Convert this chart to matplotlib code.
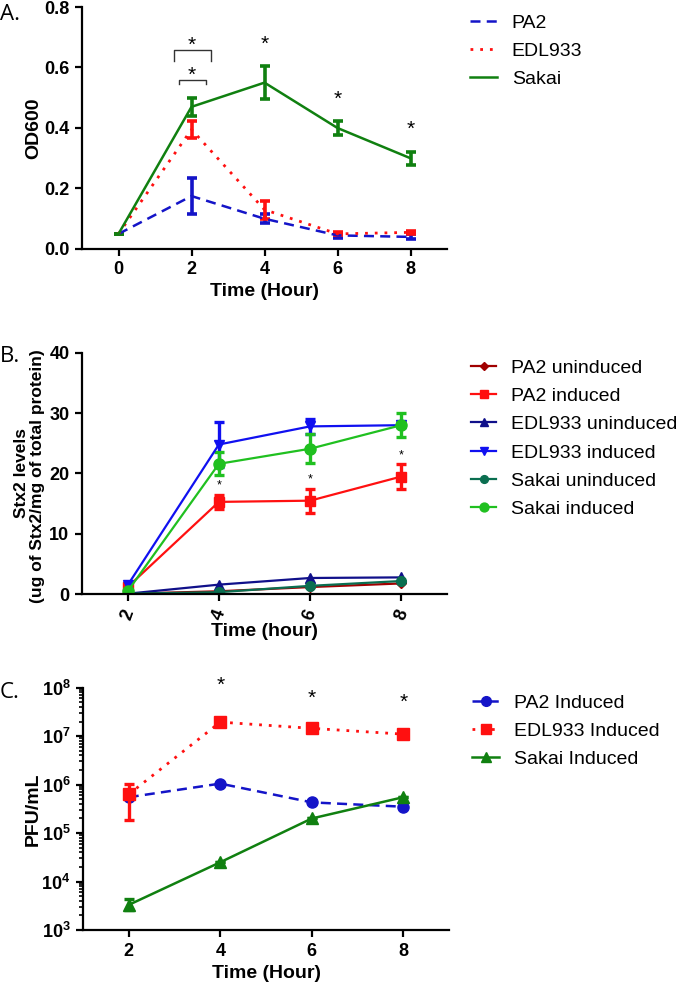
import matplotlib
matplotlib.use("Agg")
import matplotlib.pyplot as plt
from matplotlib.lines import Line2D
from matplotlib.ticker import FuncFormatter, LogLocator, NullFormatter
import numpy as np

plt.rcParams['font.family'] = ['Liberation Sans', 'DejaVu Sans']
plt.rcParams['mathtext.fontset'] = 'custom'
plt.rcParams['mathtext.rm'] = 'Liberation Sans'
plt.rcParams['mathtext.bf'] = 'Liberation Sans:bold'

# ---- panel A: OD600 ----
time_a = [0, 2, 4, 6, 8]
od_pa2 = [0.05, 0.175, 0.10, 0.045, 0.04]
od_pa2_err = [0.0, 0.06, 0.015, 0.007, 0.008]
od_edl = [0.05, 0.395, 0.13, 0.05, 0.055]
od_edl_err = [0.0, 0.027, 0.03, 0.005, 0.005]
od_sakai = [0.05, 0.47, 0.55, 0.40, 0.30]
od_sakai_err = [0.0, 0.03, 0.055, 0.022, 0.022]
stars_a_x = [4, 6, 8]
stars_a_y = [0.675, 0.495, 0.395]

# ---- panel B: Stx2 levels ----
time_b = [2, 4, 6, 8]
pa2_unind = [0.1, 0.5, 1.2, 1.8]
pa2_ind = [1.2, 15.3, 15.5, 19.5]
pa2_ind_err = [0.5, 1.2, 2.0, 2.0]
edl_unind = [0.1, 1.6, 2.7, 2.8]
edl_ind = [1.5, 24.8, 27.8, 28.0]
edl_ind_err = [0.3, 3.8, 1.3, 0.3]
sakai_unind = [0.1, 0.35, 1.4, 2.2]
sakai_ind = [0.5, 21.6, 24.1, 28.0]
sakai_ind_err = [0.3, 1.9, 2.4, 2.0]
stars_b_x = [4, 6, 8]
stars_b_y = [18.0, 19.0, 23.0]

# ---- panel C: PFU/mL ----
time_c = [2, 4, 6, 8]
pfu_pa2 = [5.5e5, 1.05e6, 4.3e5, 3.5e5]
pfu_edl = [6.3e5, 1.95e7, 1.45e7, 1.1e7]
pfu_edl_lo = [1.9e5, 1.95e7, 1.45e7, 1.1e7]
pfu_edl_hi = [1.03e6, 1.95e7, 1.45e7, 1.1e7]
pfu_sakai = [3.3e3, 2.5e4, 2.0e5, 5.5e5]
pfu_sakai_lo = [2.6e3, 2.5e4, 2.0e5, 5.5e5]
pfu_sakai_hi = [4.3e3, 2.5e4, 2.0e5, 5.5e5]
stars_c_x = [4, 6, 8]
stars_c_y = [1.1e8, 6.0e7, 4.9e7]

fig = plt.figure(figsize=(6.8, 9.89), dpi=100)

def style_axes(ax):
    for s in ['top', 'right']:
        ax.spines[s].set_visible(False)
    for s in ['left', 'bottom']:
        ax.spines[s].set_linewidth(1.6)
    ax.tick_params(width=1.6, length=5, labelsize=13, pad=4)
    for lab in ax.get_xticklabels() + ax.get_yticklabels():
        lab.set_fontweight('bold')

def legend_at(ax, handles, x_px, y_px, hl=1.4):
    return ax.legend(handles=handles, loc='upper left',
                     bbox_to_anchor=(x_px / 680, 1 - y_px / 989),
                     bbox_transform=fig.transFigure, frameon=False, fontsize=14,
                     handlelength=hl, handletextpad=0.75, labelspacing=0.55,
                     borderpad=0, borderaxespad=0, numpoints=1)

W = 365 / 680
eb = dict(elinewidth=2.6, capsize=3.5, capthick=2.6)

# Panel A
ax1 = fig.add_axes([82 / 680, 1 - 249 / 989, W, 242 / 989])
c_pa2, c_edl, c_sak = '#1414c8', '#ff1010', '#108010'
dash, dot = (0, (4, 2.5)), (0, (1, 2.5))
ax1.errorbar(time_a, od_pa2, yerr=od_pa2_err, color=c_pa2, ls=dash, lw=1.8, **eb)
ax1.errorbar(time_a, od_edl, yerr=od_edl_err, color=c_edl, ls=dot, lw=2.0, **eb)
ax1.errorbar(time_a, od_sakai, yerr=od_sakai_err, color=c_sak, ls='-', lw=1.8, **eb)
ax1.set_xlim(-1, 9)
ax1.set_ylim(0, 0.8)
ax1.set_xticks([0, 2, 4, 6, 8])
ax1.set_yticks([0.0, 0.2, 0.4, 0.6, 0.8])
ax1.yaxis.set_major_formatter(FuncFormatter(lambda v, p: f'{v:.1f}'))
ax1.set_xlabel('Time (Hour)', fontsize=14, fontweight='bold', labelpad=3)
ax1.set_ylabel('OD600', fontsize=14, fontweight='bold', labelpad=1)
style_axes(ax1)
# significance brackets at 2 h
ax1.plot([1.52, 1.52, 2.54, 2.54], [0.62, 0.657, 0.657, 0.62], color='#333333', lw=1.0)
ax1.plot([1.66, 1.66, 2.39, 2.39], [0.545, 0.559, 0.559, 0.545], color='#333333', lw=1.0)
ax1.text(2.0, 0.672, '*', ha='center', va='center', fontsize=15)
ax1.text(2.0, 0.573, '*', ha='center', va='center', fontsize=15)
for x, y in zip(stars_a_x, stars_a_y):
    ax1.text(x, y, '*', ha='center', va='center', fontsize=15)
legend_at(ax1, [Line2D([], [], color=c_pa2, ls=dash, lw=1.8, label='PA2'),
                Line2D([], [], color=c_edl, ls=dot, lw=2.0, label='EDL933'),
                Line2D([], [], color=c_sak, ls='-', lw=1.8, label='Sakai')], 470, 14)

# Panel B
ax2 = fig.add_axes([82 / 680, 1 - 594.3 / 989, W, 241.6 / 989])
eb2 = dict(elinewidth=2.4, capsize=3.5, capthick=2.4)
b_styles = [
    ('PA2 uninduced', '#a00000', 'D', 5),
    ('PA2 induced', '#ff1010', 's', 7),
    ('EDL933 uninduced', '#10108a', '^', 7),
    ('EDL933 induced', '#1010f0', 'v', 7),
    ('Sakai uninduced', '#0a6e50', 'o', 7),
    ('Sakai induced', '#20c020', 'o', 8),
]
ax2.plot(time_b, pa2_unind, color=b_styles[0][1], marker='D', ms=5, lw=1.6)
ax2.errorbar(time_b, pa2_ind, yerr=pa2_ind_err, color=b_styles[1][1], marker='s', ms=7, lw=1.6, **eb2)
ax2.plot(time_b, edl_unind, color=b_styles[2][1], marker='^', ms=7, lw=1.6)
ax2.errorbar(time_b, edl_ind, yerr=edl_ind_err, color=b_styles[3][1], marker='v', ms=7, lw=1.6, **eb2)
ax2.plot(time_b, sakai_unind, color=b_styles[4][1], marker='o', ms=7, lw=1.6)
ax2.errorbar(time_b, sakai_ind, yerr=sakai_ind_err, color=b_styles[5][1], marker='o', ms=8, lw=1.6, **eb2)
for x, y in zip(stars_b_x, stars_b_y):
    ax2.text(x, y, '*', ha='center', va='center', fontsize=9)
ax2.set_xlim(1, 9)
ax2.set_ylim(0, 40)
ax2.set_xticks(time_b)
ax2.set_yticks([0, 10, 20, 30, 40])
ax2.set_xlabel('Time (hour)', fontsize=14, fontweight='bold')
ax2.xaxis.set_label_coords(0.5, -0.12)
# two-line y label drawn as two texts
ax2.text(-60 / 365, 0.5, 'Stx2 levels', transform=ax2.transAxes, rotation=90,
         ha='center', va='center', fontsize=12.5, fontweight='bold')
ax2.text(-44 / 365, 0.49, '(ug of Stx2/mg of total protein)', transform=ax2.transAxes,
         rotation=90, ha='center', va='center', fontsize=12.5, fontweight='bold')
style_axes(ax2)
for lab in ax2.get_xticklabels():
    lab.set_rotation(70)
    lab.set_ha('center')
legend_at(ax2, [Line2D([], [], color=c, marker=m, ms=ms * 0.8, lw=1.6, label=n)
                for n, c, m, ms in b_styles], 471, 359, hl=1.3)

# Panel C
ax3 = fig.add_axes([83 / 680, 1 - 930 / 989, 366 / 680, 242.3 / 989])
ax3.plot(time_c, pfu_pa2, color=c_pa2, ls=dash, lw=1.8, marker='o', ms=8)
edl_err = [np.array(pfu_edl) - np.array(pfu_edl_lo), np.array(pfu_edl_hi) - np.array(pfu_edl)]
ax3.errorbar(time_c, pfu_edl, yerr=edl_err, color=c_edl, ls=dot, lw=2.0, marker='s', ms=8, **eb2)
sak_err = [np.array(pfu_sakai) - np.array(pfu_sakai_lo), np.array(pfu_sakai_hi) - np.array(pfu_sakai)]
ax3.errorbar(time_c, pfu_sakai, yerr=sak_err, color=c_sak, ls='-', lw=1.8, marker='^', ms=8, **eb2)
for x, y in zip(stars_c_x, stars_c_y):
    ax3.text(x, y, '*', ha='center', va='center', fontsize=15, clip_on=False)
ax3.set_yscale('log')
ax3.set_xlim(1, 9)
ax3.set_ylim(1e3, 1e8)
ax3.set_xticks(time_c)
ax3.yaxis.set_major_locator(LogLocator(base=10, numticks=10))
ax3.yaxis.set_major_formatter(FuncFormatter(lambda v, p: r'$\mathbf{10^{%d}}$' % round(np.log10(v))))
ax3.yaxis.set_minor_locator(LogLocator(base=10, subs=np.arange(2, 10), numticks=20))
ax3.yaxis.set_minor_formatter(NullFormatter())
ax3.set_xlabel('Time (Hour)', fontsize=14, fontweight='bold', labelpad=4)
ax3.set_ylabel('PFU/mL', fontsize=14, fontweight='bold', labelpad=0)
style_axes(ax3)
ax3.tick_params(which='minor', width=1.2, length=3)
legend_at(ax3, [Line2D([], [], color=c_pa2, ls=dash, lw=1.8, marker='o', ms=7, label='PA2 Induced'),
                Line2D([], [], color=c_edl, ls=dot, lw=2.0, marker='s', ms=7, label='EDL933 Induced'),
                Line2D([], [], color=c_sak, ls='-', lw=1.8, marker='^', ms=7, label='Sakai Induced')],
          472, 694)

# panel letters
for txt, y in [('A.', 14), ('B.', 357), ('C.', 693)]:
    fig.text(0.0, 1 - y / 989, txt, fontsize=16, family=['Open Sans', 'DejaVu Sans'],
             ha='left', va='center')

fig.savefig('out.png', dpi=100)
